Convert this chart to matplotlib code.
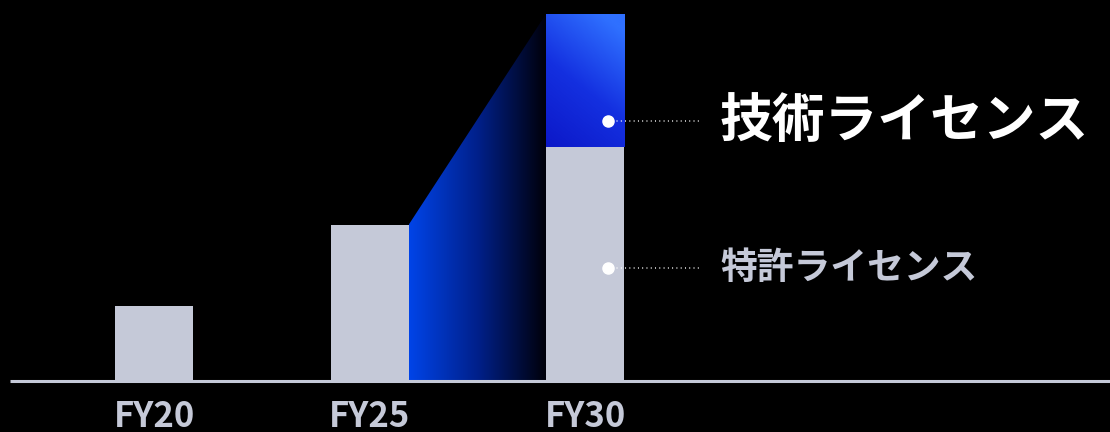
import numpy as np
import matplotlib
matplotlib.use("Agg")
import matplotlib.pyplot as plt
from matplotlib.patches import Polygon
from matplotlib.colors import LinearSegmentedColormap

plt.rcParams['font.family'] = ['Noto Sans CJK JP', 'DejaVu Sans']

# data (heights, arbitrary units)
years = ["FY20", "FY25", "FY30"]
patent = [75, 156, 234]
tech = [0, 0, 133]
label_names = ["技術ライセンス", "特許ライセンス"]
label_y = [260, 113]

BG = "#000000"
GREY = "#c5c9d8"
W = 0.362

fig = plt.figure(figsize=(11.1, 4.32), dpi=100, facecolor=BG)
ax = fig.add_axes([0, 0, 1, 1])
ax.set_facecolor(BG)
ax.set_xlim(-0.7146, 4.436)
ax.set_ylim(-51, 381)
ax.axis("off")

x = np.arange(len(years))
ax.bar(x, patent, width=W, color=GREY, zorder=3)

# blue stacked segment with a diagonal gradient
blue_cmap = LinearSegmentedColormap.from_list("b", ["#0c18c8", "#1430e0", "#2f70ff"])
gx, gy = np.meshgrid(np.linspace(0, 1, 100), np.linspace(0, 1, 100))
grad = np.clip(0.35 * gx + 0.75 * gy, 0, 1)
bottom = patent[2]
top = patent[2] + tech[2]
ax.imshow(grad, cmap=blue_cmap, origin="lower", aspect="auto",
          extent=(x[2] - W / 2, x[2] + W / 2, bottom, top), zorder=3)

# growth wedge from FY25 to FY30, blue fading to black
x0 = x[1] + W / 2
x1 = x[2] - W / 2
wedge = Polygon([(x0, 0), (x0, patent[1]), (x1, top), (x1, 0)], closed=True,
                facecolor="none", edgecolor="none")
ax.add_patch(wedge)
fade = LinearSegmentedColormap.from_list("f", ["#0044e8", "#00208a", "#000008"])
hx = np.linspace(0, 1, 256)[None, :].repeat(2, axis=0)
im2 = ax.imshow(hx, cmap=fade, origin="lower", aspect="auto",
                extent=(x0, x1, 0, top), zorder=2)
im2.set_clip_path(wedge)

# baseline
ax.plot([-0.67, 4.436], [0, 0], color=GREY, lw=2.2, zorder=4, solid_capstyle="butt")

# x labels
for xi, name in zip(x, years):
    ax.text(xi, -46, name, ha="center", va="baseline", color=GREY,
            fontsize=25, fontweight="bold")

# series labels with dots and dotted leaders
dot_x = 2.107
line_end = 2.534
text_x = 2.626
styles = [dict(color="white", fontsize=38), dict(color=GREY, fontsize=26.5)]
for name, yv, st in zip(label_names, label_y, styles):
    ax.plot([dot_x, line_end], [yv, yv], color="white", lw=1.1,
            linestyle=(0, (0.6, 2.2)), zorder=5)
    ax.plot([dot_x], [yv], "o", color="white", ms=8, zorder=6)
    ax.text(text_x, yv, name, ha="left", va="center", fontweight="bold", **st)

fig.savefig("out.png", dpi=100, facecolor=BG)
